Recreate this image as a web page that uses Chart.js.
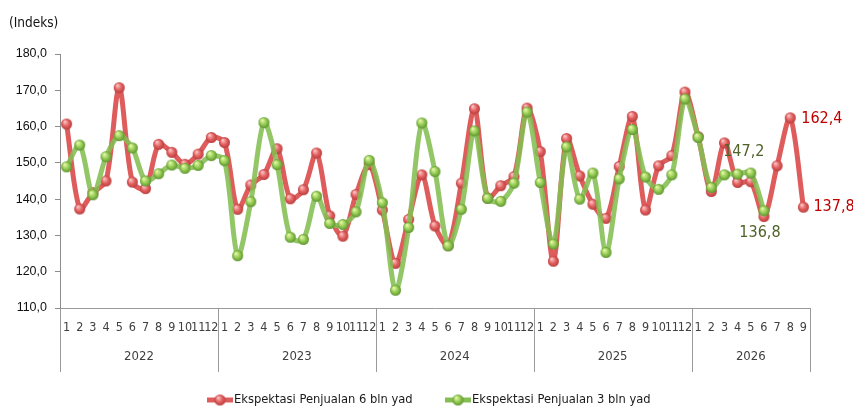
<!DOCTYPE html>
<html>
<head>
<meta charset="utf-8">
<script src="https://cdn.jsdelivr.net/npm/chart.js@4/dist/chart.umd.min.js"></script>
<style>
  html, body { margin: 0; padding: 0; background: #fff; }
  #salesChart { display: block; }
</style>
</head>
<body>
<canvas id="salesChart" width="853" height="408"></canvas>
<script>
// years on the lower axis row and how many months each one has
const years = ['2022', '2023', '2024', '2025', '2026'];
const monthsPerYear = [12, 12, 12, 12, 9];

// Ekspektasi Penjualan 6 bln yad (red)
const sales6 = [
  160.7, 137.3, 141.8, 145.0, 170.7, 144.7, 142.9, 155.1, 152.9, 149.6, 152.4, 157.0,
  155.6, 137.2, 143.9, 146.8, 153.9, 140.1, 142.6, 152.7, 135.4, 129.8, 141.3, 149.5,
  137.0, 122.3, 134.4, 146.7, 132.6, 127.3, 144.4, 164.9, 140.3, 143.7, 146.2, 165.1,
  153.1, 122.9, 156.7, 146.4, 138.6, 134.7, 149.0, 162.8, 137.0, 149.2, 152.0, 169.5,
  157.2, 142.1, 155.5, 144.6, 144.8, 135.2, 149.2, 162.4, 137.8
];

// Ekspektasi Penjualan 3 bln yad (green)
const sales3 = [
  148.9, 154.9, 141.2, 151.7, 157.5, 154.1, 145.0, 147.0, 149.4, 148.5, 149.3, 152.0,
  150.6, 124.4, 139.3, 161.1, 149.5, 129.5, 128.9, 140.8, 133.3, 133.0, 136.5, 150.7,
  139.0, 114.9, 132.2, 161.0, 147.6, 127.1, 137.2, 158.8, 140.2, 139.4, 144.4, 164.0,
  144.6, 127.6, 154.4, 140.0, 147.2, 125.3, 145.6, 159.2, 146.1, 142.7, 146.7, 167.6,
  157.0, 143.2, 146.7, 146.9, 147.2, 136.8
];

const yTicks = [110, 120, 130, 140, 150, 160, 170, 180];

// month labels 1..12 per year
const months = [];
monthsPerYear.forEach(n => { for (let m = 1; m <= n; m++) months.push(String(m)); });

const NARROW = "'Liberation Sans Narrow', 'DejaVu Sans Condensed', 'Liberation Sans', sans-serif";
const RED = '#DE5C5C';
const GREEN = 'rgba(132, 190, 82, 0.88)';

// shaded ball used as marker (Excel 3d look)
function ball(r, light, mid, dark) {
  const c = document.createElement('canvas');
  c.width = c.height = r * 2 + 2;
  const g = c.getContext('2d');
  const cx = r + 1, cy = r + 1;
  const grad = g.createRadialGradient(cx - r * 0.35, cy - r * 0.45, r * 0.1, cx, cy, r);
  grad.addColorStop(0, light);
  grad.addColorStop(0.55, mid);
  grad.addColorStop(1, dark);
  g.fillStyle = grad;
  g.beginPath();
  g.arc(cx, cy, r, 0, Math.PI * 2);
  g.fill();
  return c;
}
const redBall = ball(5.5, '#FBC3C3', '#E35F5F', '#B83E3E');
const greenBall = ball(5.5, '#E6F7A8', '#93CB52', '#5E9430');

// value labels: [dataset, index, text, dx, dy, align, colour]
const valueLabels = [
  [1, 52, '147,2', -7, -21, 'center', '#4F6228'],
  [1, 53, '136,8', -4, 22, 'center', '#4F6228'],
  [0, 55, '162,4', 11, 1, 'left', '#C00000'],
  [0, 56, '137,8', 10, 0, 'left', '#C00000']
];

const labelPlugin = {
  id: 'valueLabels',
  afterDatasetsDraw(chart) {
    const ctx = chart.ctx;
    ctx.save();
    ctx.font = '16px ' + NARROW;
    ctx.textBaseline = 'middle';
    valueLabels.forEach(([ds, i, text, dx, dy, align, color]) => {
      const pt = chart.getDatasetMeta(ds).data[i];
      ctx.fillStyle = color;
      ctx.textAlign = align;
      ctx.fillText(text, pt.x + dx, pt.y + dy);
    });
    ctx.restore();
  }
};

// year row, separators and legend
const axisPlugin = {
  id: 'yearAxis',
  afterDraw(chart) {
    const ctx = chart.ctx;
    const x = chart.scales.x;
    const bottom = chart.chartArea.bottom;
    const half = (x.getPixelForValue(1) - x.getPixelForValue(0)) / 2;
    ctx.save();
    ctx.strokeStyle = '#9a9a9a';
    ctx.lineWidth = 1;
    ctx.fillStyle = '#404040';
    ctx.font = '13px ' + NARROW;
    ctx.textAlign = 'center';
    ctx.textBaseline = 'middle';
    let start = 0;
    years.forEach((yr, k) => {
      const end = start + monthsPerYear[k] - 1;
      const left = x.getPixelForValue(start) - half;
      const right = x.getPixelForValue(end) + half;
      [left, right].forEach(px => {
        ctx.beginPath();
        ctx.moveTo(Math.round(px) + 0.5, bottom);
        ctx.lineTo(Math.round(px) + 0.5, bottom + 64);
        ctx.stroke();
      });
      ctx.fillText(yr, (left + right) / 2, bottom + 49);
      start = end + 1;
    });

    // legend
    const items = [
      { text: 'Ekspektasi Penjualan 6 bln yad', color: '#DE5C5C', img: redBall, x: 207 },
      { text: 'Ekspektasi Penjualan 3 bln yad', color: '#84BE52', img: greenBall, x: 445 }
    ];
    const ly = 400;
    items.forEach(it => {
      ctx.strokeStyle = it.color;
      ctx.lineWidth = 5;
      ctx.beginPath();
      ctx.moveTo(it.x, ly);
      ctx.lineTo(it.x + 26, ly);
      ctx.stroke();
      ctx.drawImage(it.img, it.x + 13 - it.img.width / 2, ly - it.img.height / 2);
      ctx.fillStyle = '#1a1a1a';
      ctx.textAlign = 'left';
      ctx.font = '12.8px ' + NARROW;
      ctx.fillText(it.text, it.x + 27, ly);
    });

    // unit
    ctx.fillStyle = '#111';
    ctx.font = '13.5px ' + NARROW;
    ctx.fillText('(Indeks)', 9, 23);
    ctx.restore();
  }
};

new Chart(document.getElementById('salesChart').getContext('2d'), {
  type: 'line',
  data: {
    labels: months,
    datasets: [
      {
        label: 'Ekspektasi Penjualan 6 bln yad',
        data: sales6,
        borderColor: RED,
        borderWidth: 5,
        tension: 0.3,
        pointStyle: redBall,
        pointRadius: 5.5,
        order: 2
      },
      {
        label: 'Ekspektasi Penjualan 3 bln yad',
        data: sales3,
        borderColor: GREEN,
        borderWidth: 5,
        tension: 0.3,
        pointStyle: greenBall,
        pointRadius: 5.5,
        order: 1
      }
    ]
  },
  options: {
    responsive: false,
    animation: false,
    devicePixelRatio: 1,
    layout: { padding: { top: 54, right: 43, left: 0, bottom: 0 } },
    plugins: {
      legend: { display: false },
      tooltip: { enabled: false }
    },
    scales: {
      x: {
        type: 'category',
        offset: true,
        grid: { display: false, drawTicks: false },
        border: { display: true, color: '#9a9a9a' },
        ticks: {
          autoSkip: false,
          maxRotation: 0,
          padding: 12,
          color: '#404040',
          font: { family: NARROW, size: 12.5 }
        },
        afterFit(scale) { scale.height = 100; }
      },
      y: {
        min: 110,
        max: 180,
        afterBuildTicks(scale) { scale.ticks = yTicks.map(v => ({ value: v })); },
        grid: { drawOnChartArea: false, drawTicks: true, tickLength: 5, color: '#8c8c8c' },
        border: { display: true, color: '#8c8c8c' },
        ticks: {
          padding: 8,
          color: '#111',
          font: { family: "'Liberation Sans', sans-serif", size: 12.5 },
          callback: v => v.toFixed(1).replace('.', ',')
        },
        afterFit(scale) { scale.width = 60; }
      }
    }
  },
  plugins: [labelPlugin, axisPlugin]
});
</script>
</body>
</html>
